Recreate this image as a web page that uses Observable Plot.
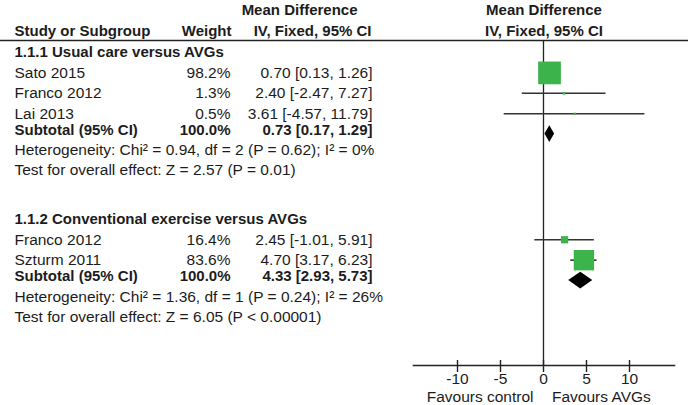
<!DOCTYPE html>
<html><head><meta charset="utf-8">
<script src="https://cdn.jsdelivr.net/npm/d3@7"></script>
<script src="https://cdn.jsdelivr.net/npm/@observablehq/plot@0.6"></script>
<style>
html,body{margin:0;padding:0;background:#fff;}
#chart svg{display:block;}
</style>
</head><body><div id="chart"></div>
<script>
// ---------------- data ----------------
const headerTexts = ["Study or Subgroup", "Weight", "Mean Difference", "IV, Fixed, 95% CI"];
const groupTitles = ["1.1.1 Usual care versus AVGs", "1.1.2 Conventional exercise versus AVGs"];
const studyNames = ["Sato 2015", "Franco 2012", "Lai 2013", "Franco 2012", "Szturm 2011"];
const studyGroup = [0, 0, 0, 1, 1];
const studyWeight = [98.2, 1.3, 0.5, 16.4, 83.6];
const studyMD = [0.70, 2.40, 3.61, 2.45, 4.70];
const studyLo = [0.13, -2.47, -4.57, -1.01, 3.17];
const studyHi = [1.26, 7.27, 11.79, 5.91, 6.23];
const subtotalLabel = "Subtotal (95% CI)";
const subtotalWeight = [100.0, 100.0];
const subtotalMD = [0.73, 4.33];
const subtotalLo = [0.17, 2.93];
const subtotalHi = [1.29, 5.73];
const heterogeneity = [
  "Heterogeneity: Chi\u00b2 = 0.94, df = 2 (P = 0.62); I\u00b2 = 0%",
  "Heterogeneity: Chi\u00b2 = 1.36, df = 1 (P = 0.24); I\u00b2 = 26%"
];
const overallEffect = [
  "Test for overall effect: Z = 2.57 (P = 0.01)",
  "Test for overall effect: Z = 6.05 (P < 0.00001)"
];
const axisTicks = [-10, -5, 0, 5, 10];
const favourLabels = ["Favours control", "Favours AVGs"];

// ---------------- layout ----------------
const W = 688, H = 405, ML = 413, MR = 14, MT = 40, MB = 40;
const ROW0 = 52, ROWH = 20.4, STRIDE = 8.18;
const COL = {study: 14, weight: 230, ci: 372};
const FONT = "'Liberation Sans', Arial, Helvetica, sans-serif";
const FS = 15.5, FSB = 15;
const INK = "#1c1c1c", LINE = "#333", GREEN = "#3cb44b";
const DIAMOND_HALF = 0.41;

const fmt = v => v.toFixed(2);
const ciText = (m, l, h) => `${fmt(m)} [${fmt(l)}, ${fmt(h)}]`;
const wText = w => w.toFixed(1) + "%";

const counts = groupTitles.map((_, g) => studyGroup.filter(x => x === g).length);
const start = g => g * STRIDE;

const studies = studyNames.map((name, i) => {
  const g = studyGroup[i];
  const idx = studyGroup.slice(0, i).filter(x => x === g).length;
  return {name, g, row: start(g) + 1 + idx, w: studyWeight[i], md: studyMD[i], lo: studyLo[i], hi: studyHi[i],
          wt: wText(studyWeight[i]), ci: ciText(studyMD[i], studyLo[i], studyHi[i])};
});
const subtotals = groupTitles.map((_, g) => ({
  g, row: start(g) + 1 + counts[g], md: subtotalMD[g], lo: subtotalLo[g], hi: subtotalHi[g],
  wt: wText(subtotalWeight[g]), ci: ciText(subtotalMD[g], subtotalLo[g], subtotalHi[g]), name: subtotalLabel
}));
const titles = groupTitles.map((text, g) => ({text, row: start(g)}));
const hetRows = heterogeneity.map((text, g) => ({text, row: subtotals[g].row + 0.8}));
const testRows = overallEffect.map((text, g) => ({text, row: subtotals[g].row + 1.78}));
const diamond = subtotals.flatMap(s => [
  {g: s.g, x: s.lo, y1: s.row, y2: s.row},
  {g: s.g, x: s.md, y1: s.row - DIAMOND_HALF, y2: s.row + DIAMOND_HALF},
  {g: s.g, x: s.hi, y1: s.row, y2: s.row}
]);

const left = (c) => c - ML;
const txt = {fontFamily: FONT, fill: INK, fontSize: FS, lineAnchor: "middle"};
const bold = {fontFamily: FONT, fill: INK, fontSize: FSB, fontWeight: "bold", lineAnchor: "middle"};

const chart = Plot.plot({
  width: W, height: H,
  marginLeft: ML, marginRight: MR, marginTop: MT, marginBottom: MB,
  style: {fontFamily: FONT, background: "#fff"},
  x: {domain: [-15, 15], range: [414, 672], axis: null},
  y: {domain: [0, 1], range: [ROW0, ROW0 + ROWH], axis: null},
  r: {type: "pow", exponent: 0.75, domain: [0, 100], range: [1, 13]},
  marks: [
    // top rule across the whole table
    Plot.frame({anchor: "top", insetLeft: -ML, insetRight: -MR, stroke: "#222", strokeWidth: 1.6}),
    // axis line
    Plot.frame({anchor: "bottom", stroke: "#222", strokeWidth: 1.6}),
    // line of no effect
    Plot.ruleX([0], {stroke: "#222", strokeWidth: 1.3}),
    // ticks
    Plot.ruleX(axisTicks, {insetTop: 320, insetBottom: -7, stroke: "#222", strokeWidth: 1.4}),
    Plot.text(axisTicks, {x: d => d, text: d => String(d), frameAnchor: "bottom", dy: 14, ...txt}),
    Plot.text([favourLabels[0]], {x: () => 0, text: d => d, frameAnchor: "bottom", dy: 32, dx: -10, textAnchor: "end", ...txt}),
    Plot.text([favourLabels[1]], {x: () => 0, text: d => d, frameAnchor: "bottom", dy: 32, dx: 8.5, textAnchor: "start", ...txt}),

    // headers
    Plot.text([headerTexts[0]], {text: d => d, frameAnchor: "top-left", dx: left(COL.study), dy: -9, textAnchor: "start", ...bold}),
    Plot.text([headerTexts[1]], {text: d => d, frameAnchor: "top-left", dx: left(231), dy: -9, textAnchor: "end", ...bold}),
    Plot.text([headerTexts[2]], {text: d => d, frameAnchor: "top-left", dx: left(357), dy: -30, textAnchor: "end", ...bold}),
    Plot.text([headerTexts[3]], {text: d => d, frameAnchor: "top-left", dx: left(371), dy: -9, textAnchor: "end", ...bold}),
    Plot.text([headerTexts[2]], {text: d => d, frameAnchor: "top", dy: -30, ...bold}),
    Plot.text([headerTexts[3]], {text: d => d, frameAnchor: "top", dy: -9, ...bold}),

    // group titles
    Plot.text(titles, {y: "row", text: "text", frameAnchor: "left", dx: left(COL.study), textAnchor: "start", ...bold}),
    // study rows
    Plot.text(studies, {y: "row", text: "name", frameAnchor: "left", dx: left(COL.study), textAnchor: "start", ...txt}),
    Plot.text(studies, {y: "row", text: "wt", frameAnchor: "left", dx: left(COL.weight), textAnchor: "end", ...txt}),
    Plot.text(studies, {y: "row", text: "ci", frameAnchor: "left", dx: left(COL.ci), textAnchor: "end", ...txt}),
    // subtotal rows
    Plot.text(subtotals, {y: "row", text: "name", frameAnchor: "left", dx: left(COL.study), dy: -4, textAnchor: "start", ...bold}),
    Plot.text(subtotals, {y: "row", text: "wt", frameAnchor: "left", dx: left(COL.weight), dy: -4, textAnchor: "end", ...bold}),
    Plot.text(subtotals, {y: "row", text: "ci", frameAnchor: "left", dx: left(COL.ci), dy: -4, textAnchor: "end", ...bold}),
    // heterogeneity / overall effect
    Plot.text(hetRows, {y: "row", text: "text", frameAnchor: "left", dx: left(COL.study), textAnchor: "start", ...txt}),
    Plot.text(testRows, {y: "row", text: "text", frameAnchor: "left", dx: left(COL.study), textAnchor: "start", ...txt}),

    // confidence intervals
    Plot.ruleY(studies, {y: "row", x1: "lo", x2: "hi", stroke: LINE, strokeWidth: 1.6}),
    // weighted squares
    Plot.dot(studies, {x: "md", y: "row", r: "w", symbol: "square", fill: GREEN, stroke: null}),
    // subtotal diamonds
    Plot.areaY(diamond, {x: "x", y1: "y1", y2: "y2", z: "g", fill: "#000", curve: "linear"})
  ]
});
document.getElementById("chart").appendChild(chart);
</script>
</body></html>
